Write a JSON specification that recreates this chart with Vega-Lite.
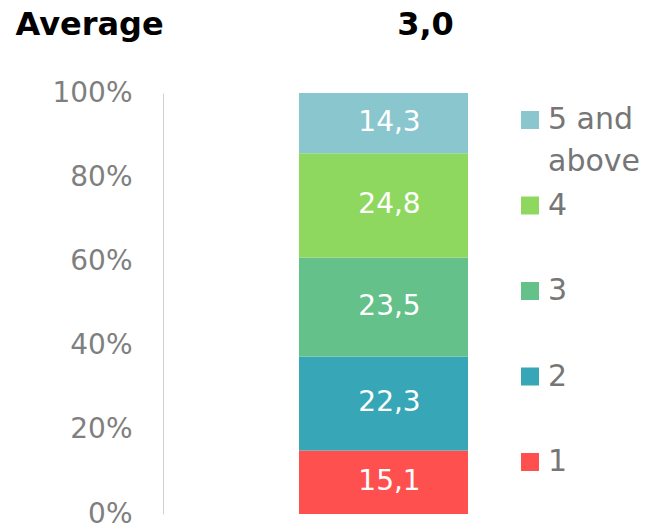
{
  "$schema": "https://vega.github.io/schema/vega-lite/v6.json",
  "width": 441,
  "height": 421,
  "autosize": {"type": "none"},
  "padding": {"left": 163, "top": 93, "right": 45, "bottom": 14},
  "background": "white",
  "data": {
    "values": [
      {"average": "3,0", "category": "1", "k": 1, "pct": 15.1},
      {"average": "3,0", "category": "2", "k": 2, "pct": 22.3},
      {"average": "3,0", "category": "3", "k": 3, "pct": 23.5},
      {"average": "3,0", "category": "4", "k": 4, "pct": 24.8},
      {"average": "3,0", "category": "5 and above", "k": 5, "pct": 14.3}
    ]
  },
  "encoding": {
    "x": {
      "field": "average",
      "type": "nominal",
      "axis": {
        "orient": "top",
        "title": "Average",
        "titleX": -148,
        "titleY": -59,
        "titleAlign": "left",
        "titleBaseline": "alphabetic",
        "titleFont": "DejaVu Sans",
        "titleFontSize": 32,
        "titleFontWeight": "bold",
        "titleColor": "black",
        "labelFont": "DejaVu Sans",
        "labelFontSize": 32,
        "labelFontWeight": "bold",
        "labelColor": "black",
        "labelAngle": 0,
        "labelBaseline": "alphabetic",
        "labelPadding": 59,
        "labelOffset": 42,
        "ticks": false,
        "domain": false,
        "grid": false
      }
    },
    "order": {"field": "k", "type": "quantitative", "sort": "ascending"}
  },
  "layer": [
    {
      "mark": {"type": "bar", "width": 169},
      "encoding": {
        "y": {
          "field": "pct",
          "type": "quantitative",
          "stack": "normalize",
          "scale": {"domain": [0, 1], "nice": false},
          "axis": {
            "title": null,
            "format": ".0%",
            "values": [0, 0.2, 0.4, 0.6, 0.8, 1],
            "grid": false,
            "ticks": false,
            "domainColor": "#d0d0d0",
            "domainWidth": 1,
            "labelFont": "DejaVu Sans",
            "labelFontSize": 28,
            "labelColor": "#7f7f7f",
            "labelPadding": 31,
            "labelBaseline": "middle"
          }
        },
        "color": {
          "field": "category",
          "type": "nominal",
          "scale": {
            "domain": ["5 and above", "4", "3", "2", "1"],
            "range": ["#8AC6CE", "#8FD860", "#64C18A", "#37A7B7", "#FF5050"]
          },
          "legend": {
            "orient": "none",
            "legendX": 352,
            "legendY": 12,
            "title": null,
            "symbolType": "square",
            "symbolSize": 324,
            "symbolStrokeWidth": 0,
            "symbolOpacity": 1,
            "labelFont": "DejaVu Sans",
            "labelFontSize": 30,
            "labelColor": "#767676",
            "labelOffset": 3,
            "labelLimit": 0,
            "labelBaseline": "middle",
            "labelExpr": "datum.label == '5 and above' ? ['5 and', 'above'] : datum.label",
            "gridAlign": "all",
            "rowPadding": 13.5,
            "encode": {
              "labels": {
                "update": {
                  "lineHeight": {"value": 42}
                }
              }
            }
          }
        }
      }
    },
    {
      "mark": {"type": "text", "color": "white", "font": "DejaVu Sans", "fontSize": 28, "baseline": "middle", "dx": 6},
      "encoding": {
        "y": {"field": "pct", "type": "quantitative", "stack": "normalize", "bandPosition": 0.5},
        "detail": {"field": "category"},
        "text": {"field": "pct", "type": "quantitative", "format": ".1f"}
      }
    }
  ],
  "config": {
    "view": {"stroke": null},
    "locale": {
      "number": {"decimal": ",", "thousands": ".", "grouping": [3], "currency": ["", " €"]}
    }
  }
}
